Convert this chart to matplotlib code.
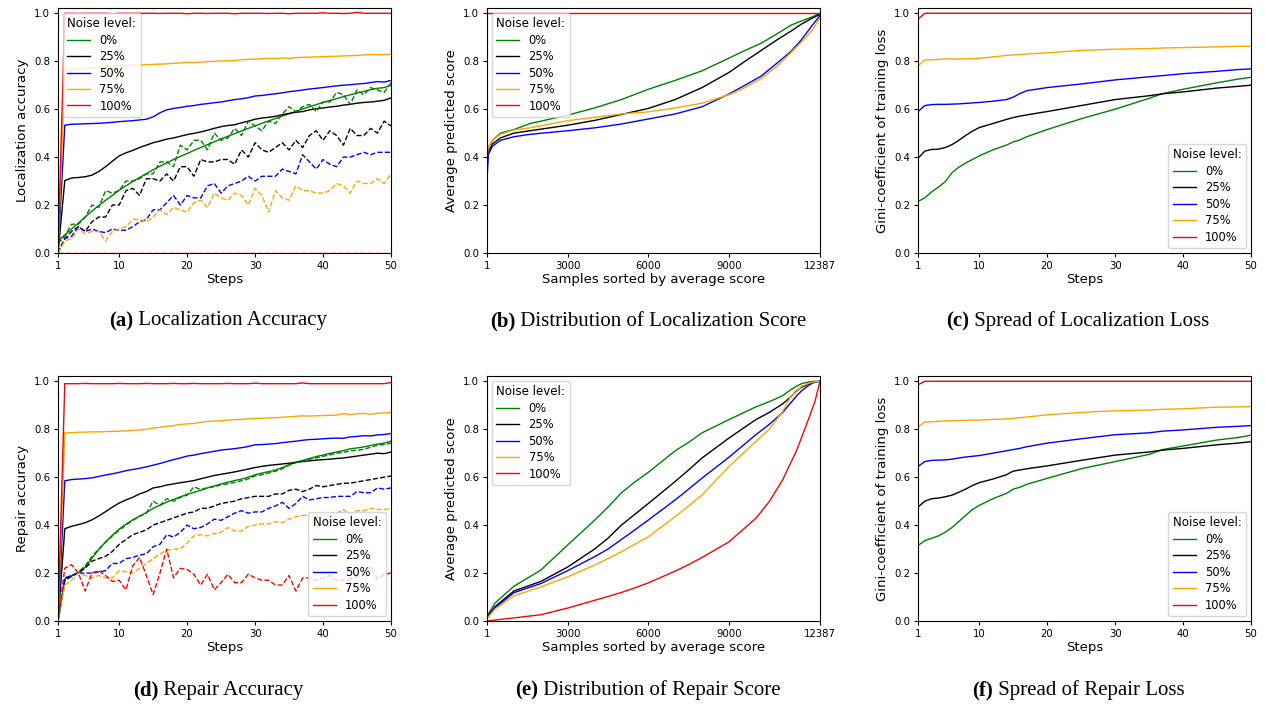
import numpy as np
import matplotlib
matplotlib.use("Agg")
import matplotlib.pyplot as plt

# ---------------- data ----------------
STEPS = list(range(1, 51))
NOISE = ["0%", "25%", "50%", "75%", "100%"]
COLORS = ["green", "black", "blue", "orange", "red"]

# (a) localization accuracy, solid
loc_green = [0.050, 0.075, 0.100, 0.125, 0.150, 0.175, 0.198, 0.220, 0.240, 0.262,
             0.280, 0.298, 0.315, 0.331, 0.347, 0.362, 0.376, 0.390, 0.403, 0.415,
             0.428, 0.440, 0.452, 0.464, 0.476, 0.487, 0.498, 0.509, 0.520, 0.530,
             0.541, 0.551, 0.561, 0.571, 0.581, 0.591, 0.601, 0.610, 0.619, 0.628,
             0.636, 0.644, 0.652, 0.660, 0.667, 0.674, 0.681, 0.687, 0.690, 0.700]
loc_black = [0.0, 0.302, 0.313, 0.315, 0.318, 0.325, 0.340, 0.360, 0.383, 0.405,
             0.418, 0.428, 0.440, 0.450, 0.460, 0.467, 0.475, 0.480, 0.487, 0.494,
             0.499, 0.505, 0.512, 0.520, 0.527, 0.532, 0.535, 0.543, 0.550, 0.558,
             0.563, 0.566, 0.570, 0.577, 0.582, 0.587, 0.590, 0.597, 0.602, 0.605,
             0.609, 0.612, 0.617, 0.620, 0.625, 0.628, 0.630, 0.633, 0.637, 0.647]
loc_blue = [0.0, 0.533, 0.537, 0.538, 0.539, 0.540, 0.541, 0.543, 0.545, 0.548,
            0.550, 0.552, 0.555, 0.558, 0.568, 0.585, 0.597, 0.603, 0.607, 0.612,
            0.615, 0.620, 0.623, 0.627, 0.630, 0.635, 0.640, 0.643, 0.648, 0.655,
            0.657, 0.661, 0.664, 0.668, 0.673, 0.676, 0.680, 0.684, 0.687, 0.690,
            0.694, 0.697, 0.700, 0.702, 0.705, 0.707, 0.711, 0.715, 0.713, 0.720]
loc_orange = [0.0, 0.760, 0.765, 0.768, 0.770, 0.773, 0.775, 0.777, 0.779, 0.781,
              0.783, 0.784, 0.785, 0.786, 0.787, 0.788, 0.789, 0.791, 0.793, 0.795,
              0.794, 0.796, 0.798, 0.800, 0.801, 0.802, 0.803, 0.806, 0.808, 0.809,
              0.810, 0.812, 0.811, 0.813, 0.812, 0.815, 0.816, 0.817, 0.818, 0.819,
              0.820, 0.821, 0.822, 0.823, 0.824, 0.826, 0.828, 0.827, 0.828, 0.829]
loc_red = [0.0, 1.0, 1.0, 0.999, 1.0, 1.0, 1.0, 1.0, 0.998, 1.0,
           1.0, 1.0, 1.0, 1.0, 1.0, 0.999, 1.0, 1.0, 1.0, 0.998,
           1.0, 1.0, 0.999, 1.0, 1.0, 1.0, 0.998, 1.0, 1.0, 1.0,
           1.0, 0.999, 1.0, 1.0, 0.998, 1.0, 1.0, 1.0, 1.0, 1.002,
           1.0, 1.0, 0.999, 1.0, 1.004, 1.0, 1.0, 1.0, 1.0, 1.0]

# (a) localization accuracy, dashed
loc_green_d = [0.04, 0.07, 0.12, 0.12, 0.15, 0.20, 0.19, 0.26, 0.25, 0.26,
               0.30, 0.30, 0.31, 0.33, 0.33, 0.38, 0.38, 0.36, 0.45, 0.43,
               0.47, 0.47, 0.43, 0.50, 0.47, 0.48, 0.52, 0.49, 0.55, 0.53,
               0.51, 0.55, 0.54, 0.58, 0.61, 0.59, 0.61, 0.62, 0.59, 0.63,
               0.63, 0.67, 0.66, 0.62, 0.68, 0.66, 0.69, 0.68, 0.67, 0.71]
loc_black_d = [0.0, 0.06, 0.09, 0.11, 0.09, 0.13, 0.15, 0.15, 0.20, 0.20,
               0.26, 0.27, 0.24, 0.31, 0.31, 0.30, 0.33, 0.30, 0.36, 0.36,
               0.32, 0.39, 0.38, 0.38, 0.39, 0.39, 0.37, 0.43, 0.40, 0.46,
               0.43, 0.42, 0.44, 0.46, 0.43, 0.47, 0.44, 0.49, 0.51, 0.47,
               0.51, 0.49, 0.45, 0.52, 0.49, 0.49, 0.52, 0.50, 0.55, 0.53]
loc_blue_d = [0.0, 0.06, 0.07, 0.11, 0.09, 0.10, 0.09, 0.085, 0.10, 0.095,
              0.095, 0.11, 0.13, 0.14, 0.18, 0.18, 0.21, 0.24, 0.20, 0.24,
              0.23, 0.23, 0.28, 0.29, 0.25, 0.28, 0.29, 0.30, 0.32, 0.30,
              0.32, 0.32, 0.32, 0.35, 0.34, 0.33, 0.41, 0.38, 0.35, 0.39,
              0.37, 0.36, 0.40, 0.40, 0.41, 0.42, 0.41, 0.42, 0.42, 0.42]
loc_orange_d = [0.0, 0.05, 0.06, 0.10, 0.08, 0.09, 0.09, 0.05, 0.09, 0.10,
                0.11, 0.14, 0.14, 0.13, 0.15, 0.18, 0.16, 0.19, 0.18, 0.17,
                0.21, 0.22, 0.19, 0.25, 0.23, 0.22, 0.25, 0.24, 0.20, 0.27,
                0.24, 0.17, 0.26, 0.23, 0.22, 0.28, 0.26, 0.26, 0.25, 0.25,
                0.26, 0.29, 0.28, 0.25, 0.30, 0.29, 0.29, 0.31, 0.29, 0.33]
loc_red_d = [0.0] * 50

# (d) repair accuracy, solid
rep_green = [0.0, 0.175, 0.188, 0.200, 0.225, 0.262, 0.298, 0.330, 0.358, 0.383,
             0.404, 0.422, 0.438, 0.452, 0.470, 0.483, 0.496, 0.507, 0.518, 0.528,
             0.537, 0.545, 0.555, 0.563, 0.572, 0.579, 0.586, 0.592, 0.600, 0.610,
             0.617, 0.623, 0.630, 0.640, 0.652, 0.662, 0.670, 0.678, 0.686, 0.692,
             0.699, 0.705, 0.711, 0.718, 0.722, 0.726, 0.732, 0.738, 0.742, 0.750]
rep_black = [0.0, 0.385, 0.395, 0.402, 0.410, 0.422, 0.438, 0.456, 0.475, 0.492,
             0.505, 0.516, 0.530, 0.540, 0.555, 0.560, 0.567, 0.572, 0.577, 0.581,
             0.586, 0.593, 0.600, 0.607, 0.612, 0.617, 0.622, 0.628, 0.634, 0.640,
             0.645, 0.649, 0.652, 0.655, 0.658, 0.662, 0.665, 0.668, 0.671, 0.673,
             0.675, 0.678, 0.680, 0.684, 0.688, 0.692, 0.696, 0.700, 0.698, 0.705]
rep_blue = [0.0, 0.585, 0.590, 0.592, 0.594, 0.597, 0.603, 0.609, 0.614, 0.620,
            0.627, 0.632, 0.637, 0.643, 0.650, 0.657, 0.665, 0.673, 0.680, 0.688,
            0.692, 0.698, 0.703, 0.708, 0.713, 0.716, 0.719, 0.723, 0.728, 0.735,
            0.736, 0.738, 0.740, 0.744, 0.747, 0.750, 0.754, 0.757, 0.758, 0.760,
            0.762, 0.763, 0.762, 0.768, 0.770, 0.773, 0.772, 0.776, 0.778, 0.782]
rep_orange = [0.0, 0.785, 0.786, 0.787, 0.788, 0.789, 0.789, 0.790, 0.791, 0.792,
              0.793, 0.795, 0.797, 0.799, 0.805, 0.808, 0.812, 0.815, 0.820, 0.822,
              0.824, 0.829, 0.832, 0.834, 0.836, 0.838, 0.840, 0.841, 0.843, 0.845,
              0.846, 0.847, 0.848, 0.850, 0.852, 0.854, 0.856, 0.855, 0.856, 0.857,
              0.858, 0.859, 0.865, 0.861, 0.864, 0.866, 0.862, 0.866, 0.868, 0.870]
rep_red = [0.0, 0.990, 0.990, 0.990, 0.991, 0.990, 0.990, 0.990, 0.990, 0.991,
           0.990, 0.990, 0.990, 0.991, 0.990, 0.990, 0.990, 0.991, 0.990, 0.990,
           0.991, 0.990, 0.990, 0.990, 0.990, 0.991, 0.990, 0.990, 0.990, 0.992,
           0.990, 0.990, 0.990, 0.990, 0.990, 0.990, 0.993, 0.990, 0.990, 0.990,
           0.990, 0.990, 0.990, 0.990, 0.990, 0.990, 0.990, 0.990, 0.990, 0.995]

# (d) repair accuracy, dashed
rep_green_d = [0.0, 0.170, 0.185, 0.205, 0.230, 0.270, 0.300, 0.328, 0.355, 0.378,
               0.400, 0.420, 0.436, 0.450, 0.500, 0.482, 0.510, 0.500, 0.515, 0.525,
               0.560, 0.548, 0.557, 0.560, 0.568, 0.572, 0.578, 0.585, 0.593, 0.605,
               0.610, 0.617, 0.625, 0.635, 0.650, 0.660, 0.668, 0.675, 0.680, 0.687,
               0.693, 0.700, 0.703, 0.710, 0.712, 0.716, 0.725, 0.733, 0.736, 0.742]
rep_black_d = [0.0, 0.17, 0.19, 0.20, 0.22, 0.25, 0.26, 0.27, 0.29, 0.32,
               0.34, 0.36, 0.37, 0.38, 0.40, 0.41, 0.42, 0.43, 0.44, 0.45,
               0.455, 0.47, 0.47, 0.48, 0.49, 0.495, 0.50, 0.51, 0.515, 0.52,
               0.52, 0.52, 0.53, 0.53, 0.545, 0.55, 0.54, 0.55, 0.565, 0.56,
               0.565, 0.57, 0.575, 0.575, 0.58, 0.585, 0.59, 0.595, 0.60, 0.605]
rep_blue_d = [0.0, 0.18, 0.19, 0.20, 0.20, 0.20, 0.205, 0.21, 0.24, 0.24,
              0.26, 0.265, 0.275, 0.28, 0.31, 0.32, 0.36, 0.35, 0.37, 0.40,
              0.385, 0.39, 0.405, 0.425, 0.42, 0.435, 0.45, 0.46, 0.45, 0.455,
              0.455, 0.47, 0.48, 0.495, 0.47, 0.49, 0.52, 0.505, 0.51, 0.515,
              0.515, 0.52, 0.52, 0.52, 0.54, 0.535, 0.535, 0.555, 0.55, 0.555]
rep_orange_d = [0.0, 0.15, 0.17, 0.20, 0.19, 0.18, 0.19, 0.18, 0.18, 0.21,
                0.205, 0.20, 0.22, 0.24, 0.26, 0.28, 0.295, 0.30, 0.30, 0.325,
                0.355, 0.36, 0.355, 0.365, 0.37, 0.39, 0.375, 0.375, 0.395, 0.40,
                0.405, 0.405, 0.415, 0.41, 0.425, 0.435, 0.44, 0.44, 0.43, 0.445,
                0.44, 0.45, 0.465, 0.445, 0.46, 0.46, 0.47, 0.465, 0.465, 0.47]
rep_red_d = [0.0, 0.22, 0.235, 0.20, 0.125, 0.20, 0.21, 0.19, 0.165, 0.17,
             0.13, 0.23, 0.265, 0.19, 0.11, 0.20, 0.30, 0.18, 0.22, 0.215,
             0.195, 0.15, 0.195, 0.13, 0.16, 0.195, 0.16, 0.16, 0.195, 0.18,
             0.17, 0.17, 0.15, 0.15, 0.19, 0.125, 0.18, 0.18, 0.17, 0.18,
             0.19, 0.17, 0.17, 0.175, 0.185, 0.20, 0.225, 0.175, 0.195, 0.20]

# (c) / (f) gini coefficient, read at these steps
GINI_STEPS = [1, 2, 3, 4, 5, 6, 7, 8, 9, 10, 12, 14, 15, 16, 17, 20, 25, 30, 35, 37, 40, 45, 48, 50]
gl_green = [0.215, 0.23, 0.255, 0.275, 0.297, 0.335, 0.358, 0.375, 0.39, 0.405, 0.43, 0.45,
            0.463, 0.472, 0.485, 0.515, 0.56, 0.60, 0.645, 0.665, 0.683, 0.71, 0.725, 0.733]
gl_black = [0.395, 0.425, 0.432, 0.433, 0.44, 0.452, 0.47, 0.49, 0.508, 0.523, 0.54, 0.557,
            0.565, 0.571, 0.576, 0.59, 0.615, 0.64, 0.656, 0.664, 0.672, 0.688, 0.695, 0.70]
gl_blue = [0.59, 0.615, 0.619, 0.62, 0.62, 0.621, 0.622, 0.624, 0.626, 0.628, 0.633, 0.64,
           0.65, 0.665, 0.677, 0.69, 0.705, 0.722, 0.735, 0.74, 0.748, 0.758, 0.765, 0.768]
gl_orange = [0.78, 0.805, 0.806, 0.807, 0.81, 0.809, 0.809, 0.81, 0.811, 0.812, 0.818, 0.824,
             0.826, 0.828, 0.83, 0.835, 0.845, 0.85, 0.853, 0.855, 0.857, 0.86, 0.862, 0.863]
gl_red = [0.975] + [1.0] * 23

gr_green = [0.315, 0.335, 0.345, 0.355, 0.37, 0.39, 0.415, 0.44, 0.465, 0.482, 0.51, 0.532,
            0.55, 0.558, 0.57, 0.595, 0.635, 0.665, 0.695, 0.715, 0.73, 0.755, 0.765, 0.775]
gr_black = [0.475, 0.50, 0.51, 0.513, 0.518, 0.525, 0.537, 0.55, 0.565, 0.577, 0.592, 0.61,
            0.625, 0.63, 0.635, 0.647, 0.67, 0.692, 0.705, 0.713, 0.72, 0.735, 0.742, 0.748]
gr_blue = [0.645, 0.665, 0.67, 0.671, 0.672, 0.675, 0.68, 0.684, 0.687, 0.69, 0.70, 0.71,
           0.715, 0.72, 0.727, 0.742, 0.76, 0.777, 0.785, 0.792, 0.797, 0.808, 0.812, 0.815]
gr_orange = [0.81, 0.83, 0.831, 0.833, 0.835, 0.835, 0.836, 0.837, 0.838, 0.838, 0.841, 0.843,
             0.845, 0.848, 0.851, 0.86, 0.87, 0.877, 0.88, 0.883, 0.885, 0.892, 0.893, 0.895]
gr_red = [0.985] + [1.0] * 23

# (b) distribution of localization score
N_SAMPLES = 12387
B_X = [1, 50, 200, 500, 1000, 1600, 3000, 4000, 5000, 6000, 7000, 8000, 9000, 9600,
       10200, 10800, 11300, 11700, 12100, 12387]
dl_green = [0.38, 0.44, 0.47, 0.50, 0.515, 0.54, 0.575, 0.605, 0.64, 0.683, 0.72, 0.76,
            0.813, 0.845, 0.875, 0.915, 0.95, 0.968, 0.985, 1.0]
dl_black = [0.35, 0.42, 0.455, 0.48, 0.50, 0.51, 0.533, 0.553, 0.578, 0.603, 0.64, 0.69,
            0.753, 0.80, 0.845, 0.89, 0.925, 0.955, 0.98, 0.995]
dl_blue = [0.30, 0.41, 0.445, 0.47, 0.485, 0.495, 0.51, 0.522, 0.538, 0.559, 0.58, 0.61,
           0.663, 0.70, 0.738, 0.793, 0.84, 0.89, 0.95, 0.99]
dl_orange = [0.40, 0.44, 0.47, 0.495, 0.513, 0.522, 0.552, 0.566, 0.58, 0.589, 0.605, 0.625,
             0.66, 0.69, 0.728, 0.78, 0.835, 0.88, 0.93, 0.98]
dl_red = [1.0] * 20

# (e) distribution of repair score
E_X = [1, 300, 1000, 2000, 3000, 4000, 4500, 5000, 5500, 6000, 7000, 7500, 8000, 9000,
       10000, 10500, 11000, 11300, 11500, 11700, 12000, 12200, 12387]
dr_green = [0.02, 0.075, 0.145, 0.212, 0.317, 0.42, 0.475, 0.535, 0.58, 0.62, 0.71, 0.745,
            0.785, 0.84, 0.893, 0.915, 0.94, 0.965, 0.978, 0.99, 0.998, 1.0, 1.0]
dr_black = [0.015, 0.06, 0.125, 0.165, 0.225, 0.30, 0.345, 0.40, 0.445, 0.49, 0.582, 0.63,
            0.68, 0.763, 0.84, 0.87, 0.906, 0.935, 0.958, 0.975, 0.99, 0.997, 1.0]
dr_blue = [0.015, 0.055, 0.118, 0.156, 0.21, 0.268, 0.30, 0.34, 0.38, 0.421, 0.505, 0.55,
           0.596, 0.683, 0.777, 0.82, 0.87, 0.91, 0.937, 0.96, 0.986, 0.997, 1.0]
dr_orange = [0.01, 0.05, 0.105, 0.142, 0.184, 0.233, 0.26, 0.289, 0.32, 0.351, 0.435, 0.48,
             0.526, 0.644, 0.749, 0.80, 0.874, 0.937, 0.955, 0.979, 0.993, 0.998, 1.0]
dr_red = [0.0, 0.004, 0.013, 0.026, 0.054, 0.086, 0.102, 0.119, 0.138, 0.159, 0.208, 0.235,
          0.265, 0.33, 0.428, 0.498, 0.589, 0.66, 0.707, 0.765, 0.854, 0.916, 1.0]

# ---------------- figure ----------------
W, H = 1265, 706
fig = plt.figure(figsize=(W / 100, H / 100), dpi=100)

COL_LEFT = [58, 487, 918]
ROW_TOP = [8, 376]
AX_W, AX_H = 333, 245


def make_ax(row, col):
    left = COL_LEFT[col] / W
    bottom = 1 - (ROW_TOP[row] + AX_H) / H
    return fig.add_axes([left, bottom, AX_W / W, AX_H / H])


def style(ax, xlabel, ylabel, steps=True):
    ax.set_ylim(0, 1.022)
    ax.set_yticks([0, 0.2, 0.4, 0.6, 0.8, 1.0])
    if steps:
        ax.set_xlim(1, 50)
        ax.set_xticks([1, 10, 20, 30, 40, 50])
    else:
        ax.set_xlim(1, N_SAMPLES)
        ax.set_xticks([1, 3000, 6000, 9000, N_SAMPLES])
    ax.set_xlabel(xlabel, fontsize=9.5, labelpad=2)
    ax.set_ylabel(ylabel, fontsize=9.5, labelpad=4)
    ax.tick_params(labelsize=7.3, length=3, pad=2.5)


def legend(ax, loc):
    ax.legend(title="Noise level:", loc=loc, fontsize=8.3, title_fontsize=8.6,
              handlelength=2.0, labelspacing=0.3, borderaxespad=0.4,
              alignment="left")


LW = 1.0

# (a)
ax = make_ax(0, 0)
for ys, c, lab in zip([loc_green, loc_black, loc_blue, loc_orange, loc_red], COLORS, NOISE):
    ax.plot(STEPS, ys, color=c, lw=LW, label=lab)
for ys, c in zip([loc_green_d, loc_black_d, loc_blue_d, loc_orange_d, loc_red_d], COLORS):
    ax.plot(STEPS, ys, color=c, lw=LW, ls="--")
style(ax, "Steps", "Localization accuracy")
legend(ax, "upper left")

# (b)
ax = make_ax(0, 1)
for ys, c, lab in zip([dl_green, dl_black, dl_blue, dl_orange, dl_red], COLORS, NOISE):
    ax.plot(B_X, ys, color=c, lw=LW, label=lab)
style(ax, "Samples sorted by average score", "Average predicted score", steps=False)
legend(ax, "upper left")

# (c)
ax = make_ax(0, 2)
for ys, c, lab in zip([gl_green, gl_black, gl_blue, gl_orange, gl_red], COLORS, NOISE):
    ax.plot(GINI_STEPS, ys, color=c, lw=LW, label=lab)
style(ax, "Steps", "Gini-coefficient of training loss")
legend(ax, "lower right")

# (d)
ax = make_ax(1, 0)
for ys, c, lab in zip([rep_green, rep_black, rep_blue, rep_orange, rep_red], COLORS, NOISE):
    ax.plot(STEPS, ys, color=c, lw=LW, label=lab)
for ys, c in zip([rep_green_d, rep_black_d, rep_blue_d, rep_orange_d, rep_red_d], COLORS):
    ax.plot(STEPS, ys, color=c, lw=LW, ls="--")
style(ax, "Steps", "Repair accuracy")
legend(ax, "lower right")

# (e)
ax = make_ax(1, 1)
for ys, c, lab in zip([dr_green, dr_black, dr_blue, dr_orange, dr_red], COLORS, NOISE):
    ax.plot(E_X, ys, color=c, lw=LW, label=lab)
style(ax, "Samples sorted by average score", "Average predicted score", steps=False)
legend(ax, "upper left")

# (f)
ax = make_ax(1, 2)
for ys, c, lab in zip([gr_green, gr_black, gr_blue, gr_orange, gr_red], COLORS, NOISE):
    ax.plot(GINI_STEPS, ys, color=c, lw=LW, label=lab)
style(ax, "Steps", "Gini-coefficient of training loss")
legend(ax, "lower right")

# captions (bold tag + regular text, centred under each panel)
CAPTIONS = [
    ("(a)", "Localization Accuracy", 218, 321),
    ("(b)", "Distribution of Localization Score", 648, 321),
    ("(c)", "Spread of Localization Loss", 1078, 321),
    ("(d)", "Repair Accuracy", 218, 690),
    ("(e)", "Distribution of Repair Score", 648, 690),
    ("(f)", "Spread of Repair Loss", 1078, 690),
]
CAP_FONT = dict(family="Liberation Serif", fontsize=15, va="center")
pairs = []
for tag, text, cx, cy in CAPTIONS:
    t1 = fig.text(0, 1 - cy / H, tag, weight="bold", **CAP_FONT)
    t2 = fig.text(0, 1 - cy / H, "\u00a0" + text, **CAP_FONT)
    pairs.append((t1, t2, cx))

fig.canvas.draw()
r = fig.canvas.get_renderer()
for t1, t2, cx in pairs:
    w1 = t1.get_window_extent(r).width
    w2 = t2.get_window_extent(r).width
    left = cx - (w1 + w2) / 2
    t1.set_x(left / W)
    t2.set_x((left + w1) / W)

fig.savefig("out.png", dpi=100)
